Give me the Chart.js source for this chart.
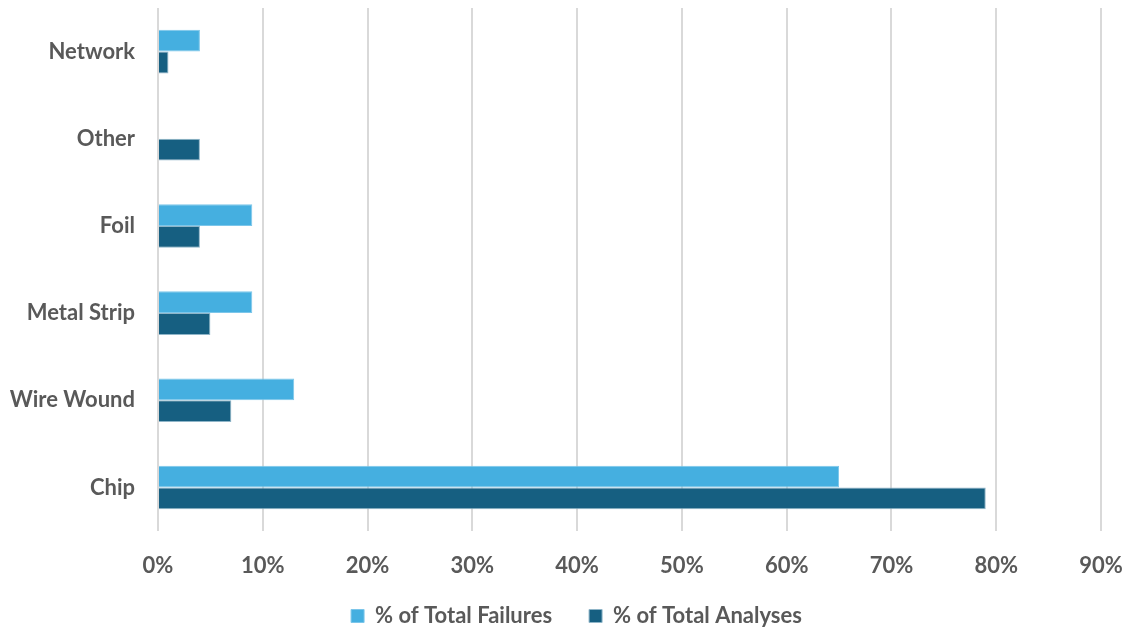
<!DOCTYPE html>
<html>
<head>
<meta charset="utf-8">
<script src="https://cdn.jsdelivr.net/npm/chart.js@4.4.1/dist/chart.umd.min.js"></script>
<style>
  html, body { margin: 0; padding: 0; background: #fff; }
  #wrap { width: 1125px; height: 627px; }
</style>
</head>
<body>
<div id="wrap"><canvas id="bar-chart"></canvas></div>
<script>
// categories, top to bottom
const categories = ['Network', 'Other', 'Foil', 'Metal Strip', 'Wire Wound', 'Chip'];
// values in percent
const failures = [4, 0, 9, 9, 13, 65];
const analyses = [1, 4, 4, 5, 7, 79];
const xTicks = [0, 10, 20, 30, 40, 50, 60, 70, 80, 90];

const textColor = '#595959';
const font = { family: 'Lato, "Open Sans", sans-serif', size: 22, weight: 'bold' };

Chart.defaults.font.family = font.family;
Chart.defaults.color = textColor;

// nudge the legend a bit right and up, like the original
const legendShift = {
  id: 'legendShift',
  afterLayout(chart) {
    const lg = chart.legend;
    if (!lg) return;
    lg.left += 26;
    lg.right += 26;
    lg.top -= 12;
    lg.bottom -= 12;
  }
};

const ctx = document.getElementById('bar-chart').getContext('2d');
const chart = new Chart(ctx, {
  type: 'bar',
  data: {
    labels: categories,
    datasets: [{
      label: '% of Total Failures',
      data: failures,
      backgroundColor: '#45afe0',
      borderColor: '#7cc6ea',
      borderWidth: 1,
      categoryPercentage: 0.5,
      barPercentage: 1.0,
    }, {
      label: '% of Total Analyses',
      data: analyses,
      backgroundColor: '#165f81',
      borderColor: '#8fb5c8',
      borderWidth: 1,
      categoryPercentage: 0.5,
      barPercentage: 1.0,
    }]
  },
  options: {
    indexAxis: 'y',
    responsive: true,
    maintainAspectRatio: false,
    animation: false,
    layout: { padding: { left: 0, right: 24, top: 8, bottom: -22 } },
    scales: {
      x: {
        min: 0,
        max: 90,
        afterBuildTicks: (scale) => { scale.ticks = xTicks.map(v => ({ value: v })); },
        ticks: {
          callback: (v) => v + '%',
          font: font,
          color: textColor,
          padding: 22,
          maxRotation: 0,
        },
        grid: { color: '#d9d9d9', lineWidth: 2, drawTicks: false },
        border: { display: false },
        afterFit: (scale) => {
          scale.height = 49;
          scale.paddingLeft = 0;
          scale.paddingRight = 0;
        },
      },
      y: {
        ticks: { font: font, color: textColor, padding: 15 },
        grid: { display: false },
        border: { display: false },
        afterFit: (scale) => {
          scale.width = 158;
          scale.paddingTop = 0;
          scale.paddingBottom = 0;
        },
      }
    },
    plugins: {
      legend: {
        position: 'bottom',
        labels: {
          font: font,
          color: textColor,
          boxWidth: 13,
          boxHeight: 13,
          padding: 37,
        }
      },
      tooltip: { enabled: false },
    }
  },
  plugins: [legendShift]
});
</script>
</body>
</html>
